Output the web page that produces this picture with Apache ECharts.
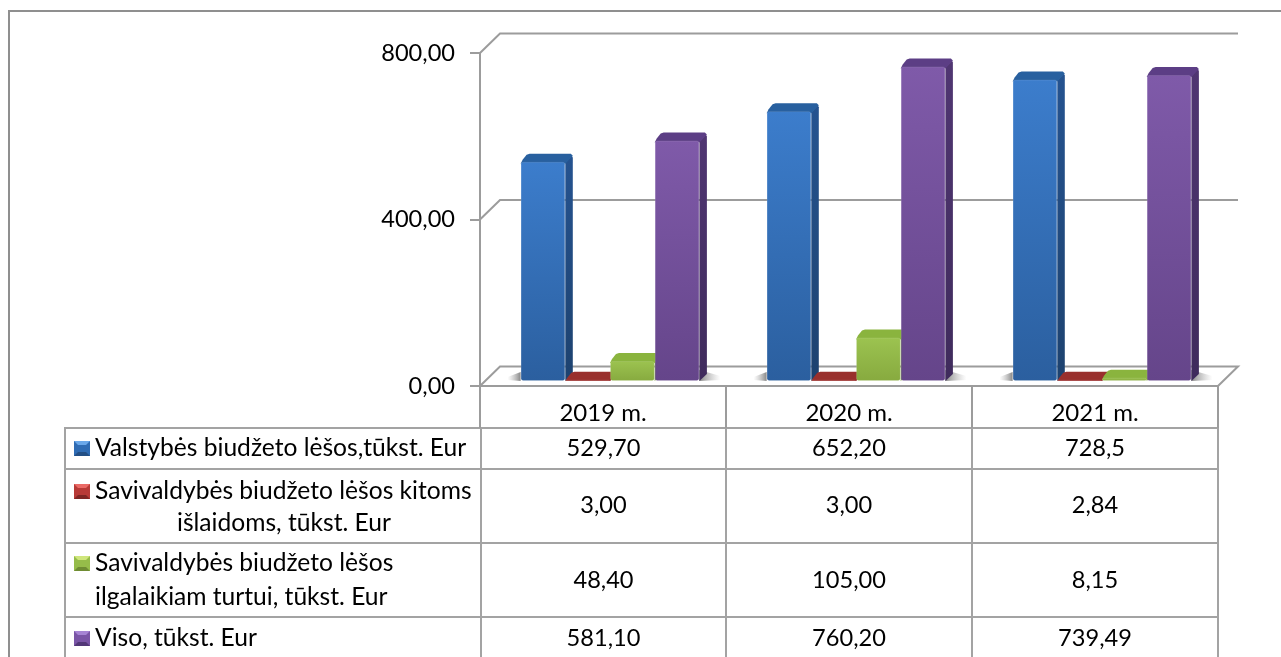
<!DOCTYPE html>
<html>
<head>
<meta charset="utf-8">
<title>Biudžeto lėšos</title>
<style>
  html, body { margin: 0; padding: 0; background: #fff; }
  #chart { width: 1281px; height: 657px; }
</style>
<script src="https://cdn.jsdelivr.net/npm/echarts@6/dist/echarts.min.js"></script>
</head>
<body>
<div id="chart"></div>
<script>
// duomenys
var years = ['2019 m.', '2020 m.', '2021 m.'];
var valstybes = [529.70, 652.20, 728.5];
var savivKitoms = [3.00, 3.00, 2.84];
var savivTurtui = [48.40, 105.00, 8.15];
var viso = [581.10, 760.20, 739.49];
var yTicks = [0, 400, 800];

// lentelės tekstai, kaip parašyta paveiksle
var rowValstybes = ['529,70', '652,20', '728,5'];
var rowKitoms = ['3,00', '3,00', '2,84'];
var rowTurtui = ['48,40', '105,00', '8,15'];
var rowViso = ['581,10', '760,20', '739,49'];
var seriesNames = [
    'Valstybės biudžeto lėšos,tūkst. Eur',
    'Savivaldybės biudžeto lėšos kitoms',
    'Savivaldybės biudžeto lėšos',
    'Viso, tūkst. Eur'
];

var FONT = 'Lato';
var GRID_LINE = '#9c9c9c';
var BAR_W = 44.7, DEPTH_X = 7.5, DEPTH_Y = 8;

var palette = [
    { top: '#3c7dcc', bottom: '#2b5f9f', side: ['#255390', '#1d426f'], cap: '#28609f', swatch: ['#6aa8ea', '#2f6cb4', '#234f85'] },
    { top: '#b83a37', bottom: '#8f2b29', side: ['#7a2422', '#6a1f1d'], cap: '#99302d', swatch: ['#ea6a66', '#b83a37', '#7f2624'] },
    { top: '#9cc350', bottom: '#87aa3f', side: ['#7b9c38', '#6b8a30'], cap: '#8ab43e', swatch: ['#cfe67c', '#96bc4a', '#6f8c33'] },
    { top: '#7f5aa9', bottom: '#65458a', side: ['#503672', '#3f2b5c'], cap: '#5c3e85', swatch: ['#a684d4', '#7a55a6', '#523777'] }
];

function shadowFill(dir) {
    return new echarts.graphic.LinearGradient(dir > 0 ? 0 : 1, 0, dir > 0 ? 1 : 0, 0, [
        { offset: 0, color: 'rgba(95,95,95,0.75)' },
        { offset: 1, color: 'rgba(150,150,150,0)' }
    ]);
}

function barRender(idx) {
    return function (params, api) {
        var c = palette[idx];
        var cat = api.value(0);
        var top = api.coord([cat, api.value(1)]);
        var base = api.coord([cat, 0]);
        var x = top[0] + 7 + (idx - 2) * BAR_W;
        var yt = top[1], yb = base[1], w = BAR_W, h = yb - yt;
        var kids = [];
        // šešėlis ant grindų, matosi tik grupės kraštuose
        if (idx === 0) {
            kids.push({ type: 'polygon', shape: { points: [[x, yb - 9], [x - 13, yb - 4], [x - 13, yb - 1], [x, yb]] },
                style: { fill: shadowFill(-1) } });
        }
        if (idx === 3) {
            kids.push({ type: 'polygon', shape: { points: [[x + w, yb - 11], [x + w + 21, yb - 5], [x + w + 21, yb - 1], [x + w, yb]] },
                style: { fill: shadowFill(1) } });
        }
        kids.push({ type: 'polygon', shape: { points: [
            [x + w, yt + 1], [x + w + DEPTH_X - 1, yt - DEPTH_Y + 2], [x + w + DEPTH_X, yt - DEPTH_Y + 4],
            [x + w + DEPTH_X, yb - DEPTH_Y + 1], [x + w, yb]] },
            style: { fill: new echarts.graphic.LinearGradient(0, 0, 0, 1, [
                { offset: 0, color: c.side[0] }, { offset: 1, color: c.side[1] }]) } });
        var capLow = Math.min(yt + 2, yb);
        kids.push({ type: 'polygon', shape: { points: [
            [x, capLow], [x + 2, yt - 2], [x + 6, yt - DEPTH_Y + 1], [x + 9, yt - DEPTH_Y],
            [x + w + DEPTH_X - 2, yt - DEPTH_Y], [x + w + DEPTH_X, yt - DEPTH_Y + 2], [x + w, capLow]] },
            style: { fill: c.cap } });
        kids.push({ type: 'rect', shape: { x: x + 0.5, y: yt + 0.5, width: w - 1, height: Math.max(h - 1, 0.5), r: Math.min(2, h / 2) },
            style: { fill: new echarts.graphic.LinearGradient(0, 0, 0, 1, [
                { offset: 0, color: c.top }, { offset: 1, color: c.bottom }]),
                stroke: 'rgba(255,255,255,0.1)', lineWidth: 1 } });
        return { type: 'group', children: kids };
    };
}

// galinė siena ir grindys: linijos einančios nuo priekinės ašies
function wallRender(params, api) {
    var y = api.coord([0, api.value(0)])[1];
    var cs = params.coordSys;
    var pts = [[cs.x, y], [cs.x + 20, y - 19.5], [cs.x + cs.width + 20, y - 19.5]];
    if (api.value(0) === 0) pts.push([cs.x + cs.width, y]);
    return { type: 'polyline', shape: { points: pts },
        style: { stroke: GRID_LINE, lineWidth: 2, fill: 'none' } };
}

function tableGraphics() {
    var g = [];
    var xs = [65, 481, 726, 972, 1218];
    var ys = [428, 469, 543, 617];
    var rows = [rowValstybes, rowKitoms, rowTurtui, rowViso];
    var rowMid = [448, 505, 580, 638];
    var line = function (x1, y1, x2, y2, color) {
        g.push({ type: 'line', shape: { x1: x1, y1: y1, x2: x2, y2: y2 },
            style: { stroke: color || '#a3a3a3', lineWidth: 2 }, silent: true });
    };
    var text = function (t, x, y, align, size) {
        g.push({ type: 'text', x: x, y: y,
            style: { text: t, fill: '#000', font: size + 'px ' + FONT, align: align, verticalAlign: 'middle' } });
    };
    ys.forEach(function (y) { line(xs[0] - 1, y, xs[4] + 1, y); });
    xs.forEach(function (x) { line(x, 428, x, 657); });
    // rėmelis
    line(9, 11, 1281, 11, '#8f8f8f');
    line(9, 10, 9, 657, '#8f8f8f');

    rows.forEach(function (r, i) {
        r.forEach(function (v, j) { text(v, (xs[j + 1] + xs[j + 2]) / 2, rowMid[i], 'center', 23.6); });
    });
    text(seriesNames[0], 95, 448, 'left', 24.6);
    text(seriesNames[1], 95, 491, 'left', 24.6);
    text('išlaidoms, tūkst. Eur', 177, 523, 'left', 24.6);
    text(seriesNames[2], 95, 563, 'left', 24.6);
    text('ilgalaikiam turtui, tūkst. Eur', 95, 597, 'left', 24.6);
    text(seriesNames[3], 95, 638, 'left', 24.6);

    // legendos kvadratėliai su nuožulniais kraštais
    [448, 491, 563, 638].forEach(function (y, i) {
        var c = palette[i].swatch;
        var l = 74, r = 90, t = y - 7, b = y + 8, ins = 4;
        g.push({ type: 'rect', shape: { x: l, y: t, width: r - l, height: b - t }, style: { fill: c[1] } });
        g.push({ type: 'polygon', shape: { points: [[l, t], [r, t], [r - ins, t + ins], [l + ins, t + ins]] }, style: { fill: c[0] } });
        g.push({ type: 'polygon', shape: { points: [[l, b], [r, b], [r - ins, b - ins], [l + ins, b - ins]] }, style: { fill: c[2] } });
    });
    return g;
}

var myChart = echarts.init(document.getElementById('chart'), null, { renderer: 'canvas' });

var barData = [valstybes, savivKitoms, savivTurtui, viso];
var series = [{
    name: 'siena',
    type: 'custom',
    xAxisIndex: 0,
    yAxisIndex: 0,
    z: 1,
    silent: true,
    renderItem: wallRender,
    encode: { y: 0 },
    data: yTicks.map(function (v) { return [v]; })
}];
barData.forEach(function (vals, i) {
    series.push({
        name: seriesNames[i],
        type: 'custom',
        xAxisIndex: 1,
        yAxisIndex: 1,
        z: 3,
        clip: false,
        renderItem: barRender(i),
        encode: { x: 0, y: 1 },
        data: vals.map(function (v, k) { return [k, v]; })
    });
});

myChart.setOption({
    animation: false,
    backgroundColor: '#fff',
    textStyle: { fontFamily: FONT },
    grid: [
        { left: 480, right: 63, top: 53, bottom: 271 },
        // stulpeliai stovi šiek tiek aukščiau priekinio krašto
        { left: 480, right: 63, top: 50, bottom: 276 }
    ],
    xAxis: [{
        gridIndex: 0,
        type: 'category',
        data: years,
        axisLine: { lineStyle: { color: GRID_LINE, width: 2 } },
        axisTick: { show: true, length: 42, lineStyle: { color: GRID_LINE, width: 2 } },
        axisLabel: { color: '#000', fontSize: 24, fontFamily: FONT, margin: 15 },
        z: 4
    }, {
        gridIndex: 1,
        type: 'category',
        data: years,
        show: false
    }],
    yAxis: [{
        gridIndex: 0,
        type: 'value',
        min: 0,
        max: 800,
        interval: 400,
        axisLine: { show: true, lineStyle: { color: GRID_LINE, width: 2 } },
        axisTick: { show: true, length: 10, lineStyle: { color: GRID_LINE, width: 2 } },
        splitLine: { show: false },
        axisLabel: {
            color: '#000', fontSize: 23.6, fontFamily: FONT, margin: 25,
            formatter: function (v) { return v.toFixed(2).replace('.', ','); }
        },
        z: 4
    }, {
        gridIndex: 1,
        type: 'value',
        min: 0,
        max: 800,
        interval: 400,
        show: false
    }],
    series: series,
    graphic: tableGraphics()
});
</script>
</body>
</html>
